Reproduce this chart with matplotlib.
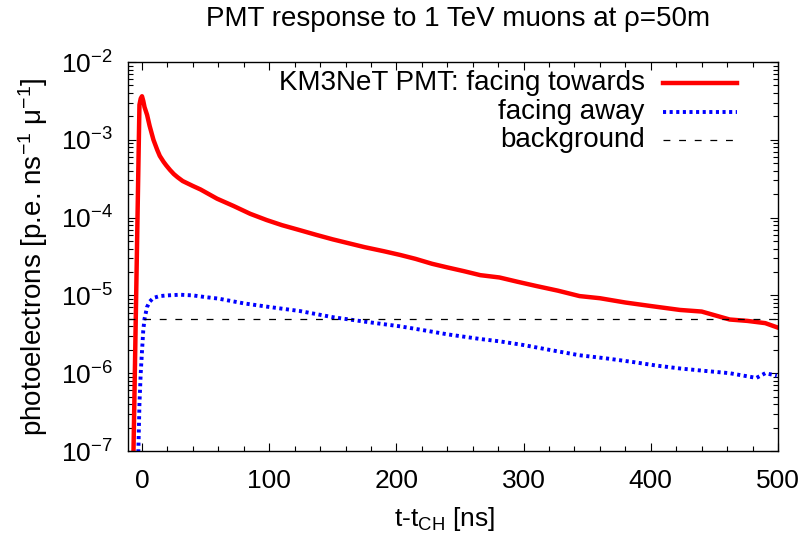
import matplotlib
matplotlib.use('Agg')
import matplotlib.pyplot as plt
from matplotlib.ticker import MultipleLocator, LogLocator, NullFormatter, FixedLocator

plt.rcParams['font.family'] = ['Liberation Sans', 'DejaVu Sans']
plt.rcParams['mathtext.fontset'] = 'custom'
plt.rcParams['mathtext.rm'] = 'Liberation Sans'
plt.rcParams['mathtext.it'] = 'Liberation Sans:italic'
plt.rcParams['mathtext.bf'] = 'Liberation Sans:bold'
plt.rcParams['mathtext.default'] = 'regular'

# ---- data ----
t_towards = [-7, -2, -1, 0, 1, 2, 4, 6, 9, 12, 14, 17, 19, 22, 25, 28, 32, 40, 46,
             59, 72, 85, 98, 110, 124, 137, 150, 162, 175, 190, 203, 215, 228, 240,
             253, 266, 281, 295, 310, 327, 344, 360, 380, 400, 423, 440, 462, 476,
             490, 499]
y_towards = [5.0e-8, 2.82e-3, 3.39e-3, 3.63e-3, 3.16e-3, 2.63e-3, 2.09e-3, 1.51e-3,
             1.0e-3, 7.4e-4, 6.2e-4, 5.2e-4, 4.7e-4, 4.1e-4, 3.63e-4, 3.3e-4,
             2.95e-4, 2.55e-4, 2.3e-4, 1.75e-4, 1.41e-4, 1.12e-4, 9.3e-5, 8.0e-5,
             6.9e-5, 6.0e-5, 5.25e-5, 4.7e-5, 4.17e-5, 3.7e-5, 3.31e-5, 2.95e-5,
             2.55e-5, 2.29e-5, 2.05e-5, 1.82e-5, 1.7e-5, 1.5e-5, 1.32e-5, 1.15e-5,
             9.8e-6, 9.2e-6, 8.1e-6, 7.3e-6, 6.5e-6, 6.2e-6, 4.9e-6, 4.7e-6,
             4.4e-6, 3.9e-6]

t_away = [-3, -2, -1, 0, 1, 2, 4, 6, 9, 14, 20, 30, 40, 50, 60, 80, 100, 124, 150,
          175, 203, 220, 240, 266, 281, 300, 320, 344, 365, 385, 405, 423, 440,
          462, 483, 490, 499]
y_away = [7.9e-8, 4.0e-7, 1.0e-6, 1.9e-6, 3.55e-6, 5.0e-6, 7.1e-6, 8.3e-6, 9.3e-6,
          9.8e-6, 1.0e-5, 1.02e-5, 1.0e-5, 9.5e-6, 9.1e-6, 7.9e-6, 7.1e-6, 6.3e-6,
          5.25e-6, 4.6e-6, 4.0e-6, 3.6e-6, 3.16e-6, 2.75e-6, 2.57e-6, 2.3e-6,
          2.0e-6, 1.7e-6, 1.55e-6, 1.4e-6, 1.25e-6, 1.15e-6, 1.08e-6, 1.0e-6,
          8.7e-7, 1.0e-6, 9.3e-7]

background = 5.0e-6

labels = ["KM3NeT PMT: facing towards", "facing away", "background"]
x_ticks = [0, 100, 200, 300, 400, 500]

# ---- figure ----
fig = plt.figure(figsize=(8.06, 5.39), dpi=100)
ax = fig.add_axes([128/806, 1 - 451/539, 650/806, 389/539])

red_style = dict(color='#ff0000', lw=3.2, solid_joinstyle='round')
blue_style = dict(color='#0000ff', lw=2.8, linestyle=(0, (0.8, 0.9)))
bg_style = dict(color='black', lw=0.9, linestyle=(0, (5.5, 7)))

ax.plot(t_towards, y_towards, **red_style)
ax.plot(t_away, y_away, **blue_style)
ax.axhline(background, **bg_style)

ax.set_yscale('log')
ax.set_xlim(-11, 500)
ax.set_ylim(1e-7, 1e-2)

ax.xaxis.set_major_locator(FixedLocator(x_ticks))
ax.xaxis.set_minor_locator(MultipleLocator(20))
ax.yaxis.set_major_locator(LogLocator(base=10, numticks=10))
ax.yaxis.set_minor_locator(LogLocator(base=10, subs=range(2, 10), numticks=20))
ax.yaxis.set_minor_formatter(NullFormatter())

ax.tick_params(which='both', direction='in', top=True, right=True, width=0.8,
               labelsize=19)
ax.tick_params(which='major', length=5.5)
ax.tick_params(which='minor', length=3.5)
ax.tick_params(axis='x', which='major', pad=13)
ax.tick_params(axis='y', which='major', pad=11)
for s in ax.spines.values():
    s.set_linewidth(1.0)

# legend (manual, text left of sample, right aligned)
rows_y = [0.946, 0.871, 0.800]
styles = [red_style, blue_style, bg_style]
for lab, yy, st in zip(labels, rows_y, styles):
    ax.text(0.795, yy, lab, transform=ax.transAxes, ha='right', va='center',
            fontsize=20)
    ax.plot([0.823, 0.937], [yy, yy], transform=ax.transAxes, **st)

fig.text(458/806, 1 - 19/539, r"PMT response to 1 TeV muons at ρ=50m",
         ha='center', va='center', fontsize=20)
fig.text(445/806, 1 - 519/539, r"t-t$_{\rm CH}$ [ns]", ha='center', va='center',
         fontsize=19)
fig.text(33/806, 1 - 257/539, r"photoelectrons [p.e. ns$^{-1}$ μ$^{-1}$]",
         ha='center', va='center', rotation=90, fontsize=20)

fig.savefig('out.png', dpi=100)
